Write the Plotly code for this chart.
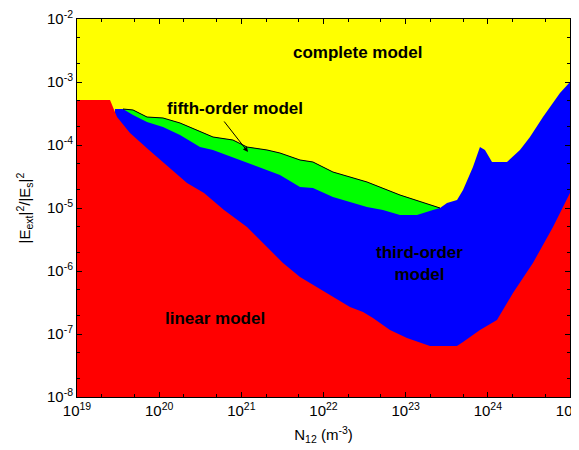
import numpy as np
import plotly.graph_objects as go

# Boundaries, as log10 values
# Red (linear model) upper boundary
red_logN = [19.00, 19.402, 19.487, 19.645, 19.876, 20.059, 20.339, 20.546, 20.789, 21.069,
            21.312, 21.507, 21.714, 21.921, 22.115, 22.322, 22.481, 22.602, 22.809, 23.016,
            23.296, 23.624, 23.698, 23.904, 24.111, 24.306, 24.549, 24.793, 25.0]
red_logE = [-3.286, -3.286, -3.556, -3.810, -4.079, -4.286, -4.603, -4.762, -5.032, -5.302,
            -5.619, -5.873, -6.095, -6.254, -6.413, -6.571, -6.651, -6.746, -6.937, -7.063,
            -7.190, -7.190, -7.127, -6.937, -6.778, -6.349, -5.873, -5.302, -4.762]

# Outer boundary of the reduced models (yellow boundary)
outer_logN = [19.462, 19.560, 19.682, 19.852, 20.047, 20.254, 20.460, 20.655, 20.898, 21.069,
              21.312, 21.470, 21.714, 21.872, 22.115, 22.529, 22.931, 23.332, 23.418, 23.503,
              23.625, 23.698, 23.819, 23.904, 23.965, 24.051, 24.233, 24.391, 24.513, 24.671,
              24.756, 24.878, 25.0]
outer_logE = [-3.429, -3.429, -3.444, -3.556, -3.571, -3.651, -3.762, -3.873, -3.921, -4.032,
              -4.079, -4.127, -4.238, -4.270, -4.429, -4.587, -4.794, -4.968, -5.0, -4.921,
              -4.873, -4.714, -4.349, -4.032, -4.079, -4.270, -4.270, -4.079, -3.873, -3.556,
              -3.397, -3.175, -3.0]

# Lower boundary of fifth-order region (top of third-order)
green_bot_logN = [19.560, 19.682, 19.852, 20.047, 20.254, 20.497, 20.655, 20.898, 21.069, 21.312,
                  21.470, 21.714, 21.872, 22.115, 22.529, 22.724, 22.931, 23.138, 23.332, 23.418]
green_bot_logE = [-3.429, -3.524, -3.635, -3.714, -3.841, -4.032, -4.079, -4.190, -4.286, -4.397,
                  -4.476, -4.667, -4.683, -4.825, -4.984, -5.032, -5.111, -5.111, -5.032, -5.0]

x_tick_exp = [19, 20, 21, 22, 23, 24, 25]
y_tick_exp = [-8, -7, -6, -5, -4, -3, -2]
y_floor = -8

def p10(a):
    return list(np.power(10.0, np.array(a, dtype=float)))

fig = go.Figure()

# Blue: third-order (under outer boundary)
bx = outer_logN + [outer_logN[-1], outer_logN[0]]
by = outer_logE + [y_floor, y_floor]
fig.add_trace(go.Scatter(x=p10(bx), y=p10(by), fill="toself", fillcolor="#0000FF",
                         mode="lines", line=dict(width=0, color="#0000FF"), hoverinfo="skip"))

# Green: fifth-order
n_green = outer_logN.index(23.418)
g_top_x = outer_logN[1:n_green + 1]
g_top_y = outer_logE[1:n_green + 1]
gx = g_top_x + green_bot_logN[::-1]
gy = g_top_y + green_bot_logE[::-1]
fig.add_trace(go.Scatter(x=p10(gx), y=p10(gy), fill="toself", fillcolor="#00FF00",
                         mode="lines", line=dict(width=0, color="#00FF00"), hoverinfo="skip"))
# black outline on top of green
fig.add_trace(go.Scatter(x=p10(g_top_x), y=p10(g_top_y), mode="lines",
                         line=dict(width=1, color="black"), hoverinfo="skip"))

# Red: linear model
rx = red_logN + [red_logN[-1], red_logN[0]]
ry = red_logE + [y_floor, y_floor]
fig.add_trace(go.Scatter(x=p10(rx), y=p10(ry), fill="toself", fillcolor="#FF0000",
                         mode="lines", line=dict(width=0, color="#FF0000"), hoverinfo="skip"))

font_fam = "Liberation Sans, Arial, sans-serif"
lab_font = dict(family=font_fam, size=17, color="black")

fig.add_annotation(x=22.408, y=-2.524, text="<b>complete model</b>", showarrow=False, font=lab_font)
fig.add_annotation(x=20.923, y=-3.413, text="<b>fifth-order model</b>", showarrow=False, font=lab_font)
fig.add_annotation(x=23.174, y=-5.873, text="<b>third-order<br>model</b>", showarrow=False,
                   font=lab_font)
fig.add_annotation(x=20.679, y=-6.746, text="<b>linear model</b>", showarrow=False, font=lab_font)
fig.add_annotation(x=21.081, y=-4.111, ax=20.777, ay=-3.603, axref="x", ayref="y",
                   xref="x", yref="y", text="", showarrow=True, arrowhead=2, arrowsize=1,
                   arrowwidth=1, arrowcolor="black")

tick_font = dict(family=font_fam, size=15, color="black")
fig.update_xaxes(type="log", range=[19, 25], automargin=False, ticklabeloverflow="allow",
                 tickmode="array", tickvals=p10(x_tick_exp),
                 ticktext=["10<sup>%d</sup>" % e for e in x_tick_exp],
                 ticks="inside", ticklen=5, tickcolor="black", mirror="ticks",
                 showline=True, linecolor="black", linewidth=1, showgrid=False, zeroline=False,
                 minor=dict(ticks="inside", ticklen=3, tickcolor="black", showgrid=False),
                 tickfont=tick_font,
                 title=dict(text="N<sub>12</sub> (m<sup>-3</sup>)", font=tick_font, standoff=11))
fig.update_yaxes(type="log", range=[-8, -2], automargin=False, ticklabeloverflow="allow",
                 tickmode="array", tickvals=p10(y_tick_exp),
                 ticktext=["10<sup>%d</sup>" % e for e in y_tick_exp],
                 ticks="inside", ticklen=5, tickcolor="black", mirror="ticks",
                 showline=True, linecolor="black", linewidth=1, showgrid=False, zeroline=False,
                 minor=dict(ticks="inside", ticklen=3, tickcolor="black", showgrid=False),
                 tickfont=tick_font,
                 title=dict(text="|E<sub>ext</sub>|<sup>2</sup>/|E<sub>s</sub>|<sup>2</sup>",
                            font=tick_font, standoff=12))

# the page body adds an 8px offset, so the figure is sized to fit the window
fig.update_layout(width=571, height=442, showlegend=False,
                  plot_bgcolor="#FFFF00", paper_bgcolor="white",
                  margin=dict(l=69, r=9, t=11, b=53))

fig.write_html("out.html")
